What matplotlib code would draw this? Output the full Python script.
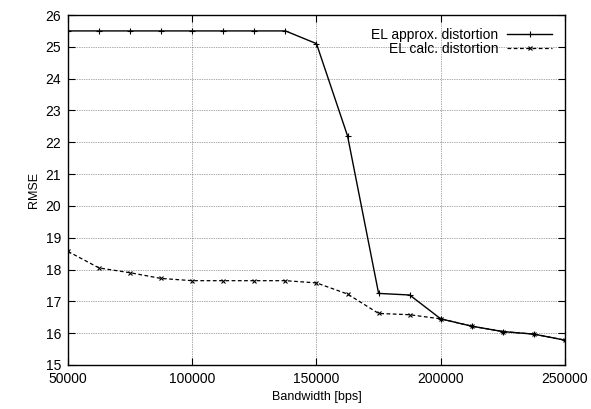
import numpy as np
import matplotlib.pyplot as plt

plt.rcParams['font.family'] = ['Liberation Sans', 'DejaVu Sans']

bandwidth = [50000, 62500, 75000, 87500, 100000, 112500, 125000, 137500, 150000,
             162500, 175000, 187500, 200000, 212500, 225000, 237500, 250000]
approx_rmse = [25.5, 25.5, 25.5, 25.5, 25.5, 25.5, 25.5, 25.5, 25.1,
               22.2, 17.25, 17.2, 16.45, 16.22, 16.05, 15.97, 15.78]
calc_rmse = [18.57, 18.05, 17.9, 17.72, 17.65, 17.65, 17.65, 17.65, 17.58,
             17.23, 16.62, 16.58, 16.45, 16.22, 16.05, 15.97, 15.78]

fig = plt.figure(figsize=(5.91, 4.09), dpi=100)
ax = fig.add_axes([0.115, 0.1076, 0.841, 0.8557])

ax.plot(bandwidth, approx_rmse, color="black", linewidth=1.0, linestyle="-",
        marker="+", markersize=4.5, markeredgewidth=0.8, label="EL approx. distortion")
ax.plot(bandwidth, calc_rmse, color="black", linewidth=0.9, linestyle=(0, (3, 2)),
        marker="x", markersize=3.5, markeredgewidth=0.8, label="EL calc. distortion")

ax.set_xlim(50000, 250000)
ax.set_ylim(15, 26)
ax.set_xticks(np.arange(50000, 250001, 50000))
ax.set_yticks(np.arange(15, 27, 1))
ax.tick_params(direction="in", top=True, right=True, labelsize=10, length=5, width=0.8, pad=5)
ax.grid(True, color="#555555", linestyle=(0, (1, 1.5)), linewidth=0.5)

for s in ax.spines.values():
    s.set_linewidth(1.0)

ax.set_xlabel("Bandwidth [bps]", fontsize=9)
ax.set_ylabel("RMSE", fontsize=9)

leg = ax.legend(loc="upper right", frameon=False, markerfirst=False, fontsize=10,
                numpoints=1, handlelength=3.3, borderaxespad=0.6, labelspacing=0.05,
                handletextpad=0.6, borderpad=0.3)
for t in leg.get_texts():
    t.set_ha("right")

plt.savefig("out.png", dpi=100)
